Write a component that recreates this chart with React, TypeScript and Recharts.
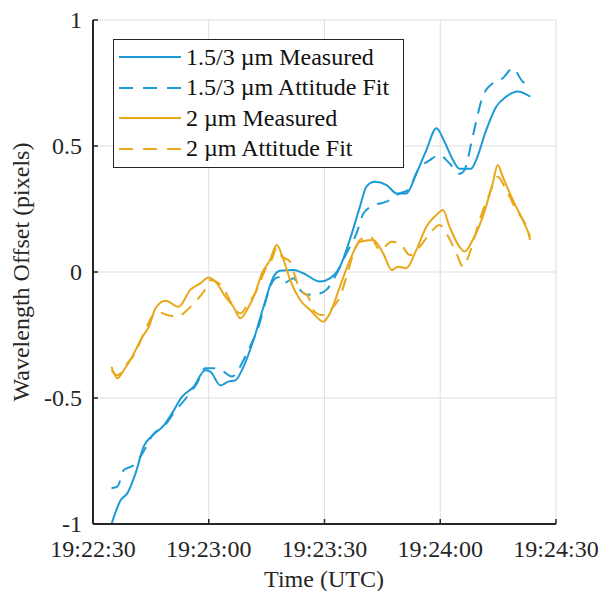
import { CartesianGrid, Legend, Line, LineChart, XAxis, YAxis } from "recharts";

// seconds after 19:22:30
const blueMeasT = [4.8, 7.2, 8.9, 11, 13.2, 15.3, 18.3, 20.5, 23.1, 26.1, 29.1, 30.4, 33, 35.1, 36.9, 39, 41.6, 44.2, 46.8, 48.5, 52, 54.5, 58.8, 61.4, 64, 66.6, 69.2, 70.9, 73, 76.1, 78.7, 81.2, 83.8, 86.4, 89, 91.1, 93.3, 95, 98, 99.3, 101.9, 104.5, 107.1, 110.1, 113.3];
const blueMeasV = [-1.0, -0.905, -0.878, -0.8, -0.69, -0.65, -0.61, -0.56, -0.495, -0.455, -0.39, -0.395, -0.45, -0.435, -0.43, -0.376, -0.27, -0.138, -0.019, 0.005, 0.008, -0.005, -0.038, -0.025, 0.021, 0.13, 0.26, 0.34, 0.358, 0.345, 0.312, 0.312, 0.39, 0.484, 0.57, 0.517, 0.444, 0.41, 0.41, 0.444, 0.563, 0.656, 0.696, 0.716, 0.696];

const blueFitT = [4.8, 6.3, 8, 10.6, 12.8, 15.8, 18.3, 20.9, 24.4, 27, 29.1, 31.3, 33.9, 36, 39, 40.7, 42.9, 45.1, 46.8, 48.1, 49.4, 52, 53.7, 55.4, 58.8, 60.5, 63.2, 65.7, 68.3, 70.1, 73, 76.1, 79.5, 81.7, 84.2, 87.3, 89.8, 92.4, 95, 96.3, 98.4, 101, 103.6, 106.2, 108.8, 111.4, 113.3];
const blueFitV = [-0.858, -0.852, -0.786, -0.766, -0.72, -0.64, -0.614, -0.56, -0.495, -0.44, -0.382, -0.382, -0.396, -0.415, -0.35, -0.296, -0.217, -0.098, -0.032, -0.021, -0.045, -0.025, -0.071, -0.09, -0.085, -0.071, -0.005, 0.074, 0.153, 0.233, 0.266, 0.279, 0.312, 0.325, 0.405, 0.444, 0.464, 0.431, 0.39, 0.405, 0.537, 0.696, 0.749, 0.769, 0.808, 0.755, 0.742];

const orangeMeasT = [4.8, 6.3, 8, 10.6, 12.8, 14.5, 16.2, 18.8, 22.2, 25.2, 27.8, 30, 32.1, 34.3, 36.4, 38.2, 39.9, 42, 43.8, 45.9, 47.6, 49.4, 51.1, 53.7, 56.3, 59.7, 61.4, 64, 66.6, 69.2, 72.6, 75.2, 77.4, 79.1, 81.2, 83.8, 86.4, 89, 90.7, 92.4, 95, 96.3, 98.4, 101, 103.6, 104.9, 106.2, 108.8, 111.4, 113.3];
const orangeMeasV = [-0.376, -0.422, -0.389, -0.323, -0.257, -0.217, -0.144, -0.114, -0.138, -0.071, -0.045, -0.022, -0.045, -0.098, -0.138, -0.184, -0.151, -0.085, -0.005, 0.048, 0.107, 0.048, -0.032, -0.111, -0.151, -0.197, -0.164, -0.058, 0.048, 0.12, 0.127, 0.074, 0.008, 0.021, 0.015, 0.087, 0.18, 0.226, 0.246, 0.18, 0.1, 0.081, 0.127, 0.219, 0.352, 0.425, 0.378, 0.286, 0.206, 0.14];

const orangeFitT = [4.8, 6.3, 8.9, 10.6, 13.2, 15.3, 16.6, 19.2, 21.8, 24.4, 26.5, 28.7, 30.4, 32.6, 34.3, 36.4, 38.2, 40.3, 42.5, 44.6, 46.3, 47.6, 48.6, 51.1, 52.4, 53.7, 55.8, 57.1, 59.3, 61.4, 64, 65.7, 67.8, 69.2, 71.8, 74.4, 77.4, 79.5, 82.1, 84.7, 87.3, 89.8, 91.6, 94.2, 95.9, 97.6, 100.2, 102.8, 104.9, 107.1, 109.7, 112.3, 113.3];
const orangeFitV = [-0.39, -0.41, -0.362, -0.33, -0.243, -0.177, -0.157, -0.171, -0.177, -0.151, -0.118, -0.078, -0.032, -0.045, -0.078, -0.138, -0.164, -0.124, -0.071, 0.008, 0.048, 0.095, 0.067, 0.04, -0.019, -0.071, -0.098, -0.151, -0.171, -0.151, -0.098, -0.019, 0.087, 0.127, 0.14, 0.087, 0.12, 0.114, 0.067, 0.1, 0.153, 0.187, 0.153, 0.074, 0.021, 0.074, 0.206, 0.312, 0.378, 0.325, 0.246, 0.18, 0.127];

const xTicks = [0, 30, 60, 90, 120];
const yTicks = [-1, -0.5, 0, 0.5, 1];

const BLUE = "#1b9ad6";
const ORANGE = "#e8a819";
const AXIS = "#262626";
const FONT = "'Liberation Serif', 'Times New Roman', serif";

const toRows = (t: number[], v: number[]) => t.map((x, i) => ({ t: x, v: v[i] }));

const series = [
  { name: "1.5/3 \u00b5m Measured", color: BLUE, dash: undefined, data: toRows(blueMeasT, blueMeasV) },
  { name: "1.5/3 \u00b5m Attitude Fit", color: BLUE, dash: "13 9", data: toRows(blueFitT, blueFitV) },
  { name: "2 \u00b5m Measured", color: ORANGE, dash: undefined, data: toRows(orangeMeasT, orangeMeasV) },
  { name: "2 \u00b5m Attitude Fit", color: ORANGE, dash: "13 9", data: toRows(orangeFitT, orangeFitV) },
];

function fmtTime(s: number) {
  const total = 22 * 60 + 30 + s;
  const m = Math.floor(total / 60);
  const sec = total % 60;
  return `19:${String(m).padStart(2, "0")}:${String(sec).padStart(2, "0")}`;
}

function BottomTick({ x, y, payload }: any) {
  return (
    <g>
      <line x1={x} y1={y} x2={x} y2={y - 5} stroke={AXIS} strokeWidth={1.5} />
      <text x={x} y={y + 33} textAnchor="middle" fill={AXIS} fontSize={24} fontFamily={FONT}>
        {fmtTime(payload.value)}
      </text>
    </g>
  );
}

function TopTick({ x, y }: any) {
  return <line x1={x} y1={y} x2={x} y2={y + 5} stroke={AXIS} strokeWidth={1.5} />;
}

function LeftTick({ x, y, payload }: any) {
  return (
    <g>
      <line x1={x} y1={y} x2={x + 5} y2={y} stroke={AXIS} strokeWidth={1.5} />
      <text x={x - 11} y={y + 8} textAnchor="end" fill={AXIS} fontSize={24} fontFamily={FONT}>
        {payload.value}
      </text>
    </g>
  );
}

function RightTick({ x, y }: any) {
  return <line x1={x} y1={y} x2={x - 5} y2={y} stroke={AXIS} strokeWidth={1.5} />;
}

function LegendBox() {
  return (
    <div
      style={{
        border: `1.5px solid ${AXIS}`,
        background: "#fff",
        width: 289,
        padding: "2px 0 3px 0",
        fontFamily: FONT,
        fontSize: 24,
        color: "#111",
        boxSizing: "content-box",
      }}
    >
      {series.map((s) => (
        <div key={s.name} style={{ display: "flex", alignItems: "center", height: 30.5, whiteSpace: "nowrap" }}>
          <svg width={72} height={10} style={{ flex: "none" }}>
            <line x1={5} x2={67} y1={5} y2={5} stroke={s.color} strokeWidth={2} strokeDasharray={s.dash ? "14 10" : undefined} />
          </svg>
          <span>{s.name}</span>
        </div>
      ))}
    </div>
  );
}

export default function App() {
  return (
    <div style={{ position: "absolute", left: 0, top: 0, width: 600, height: 591, background: "#fff" }}>
      <LineChart width={600} height={591} margin={{ top: 20, right: 44, bottom: 0, left: 0 }}>
        <CartesianGrid stroke="#dfdfdf" strokeWidth={1} />
        <XAxis
          dataKey="t"
          type="number"
          domain={[0, 120]}
          ticks={xTicks}
          height={67}
          tickSize={0}
          tickMargin={0}
          tickLine={false}
          tick={<BottomTick />}
          axisLine={{ stroke: AXIS, strokeWidth: 2 }}
          label={{
            content: () => (
              <text x={324} y={587} textAnchor="middle" fill={AXIS} fontSize={24} fontFamily={FONT}>
                Time (UTC)
              </text>
            ),
          }}
        />
        <XAxis
          xAxisId="top"
          orientation="top"
          dataKey="t"
          type="number"
          domain={[0, 120]}
          ticks={xTicks}
          height={0}
          tickSize={0}
          tickMargin={0}
          tickLine={false}
          tick={<TopTick />}
          axisLine={{ stroke: AXIS, strokeWidth: 2 }}
        />
        <YAxis
          type="number"
          domain={[-1, 1]}
          ticks={yTicks}
          width={93}
          tickSize={0}
          tickMargin={0}
          tickLine={false}
          tick={<LeftTick />}
          axisLine={{ stroke: AXIS, strokeWidth: 2 }}
          label={{
            content: () => (
              <text x={29} y={272} transform="rotate(-90, 29, 272)" textAnchor="middle" fill={AXIS} fontSize={24} fontFamily={FONT}>
                Wavelength Offset (pixels)
              </text>
            ),
          }}
        />
        <YAxis
          yAxisId="right"
          orientation="right"
          type="number"
          domain={[-1, 1]}
          ticks={yTicks}
          width={0}
          tickSize={0}
          tickMargin={0}
          tickLine={false}
          tick={<RightTick />}
          axisLine={{ stroke: AXIS, strokeWidth: 2 }}
        />
        {series.map((s) => (
          <Line
            key={s.name}
            data={s.data}
            dataKey="v"
            name={s.name}
            type="monotone"
            stroke={s.color}
            strokeWidth={2}
            strokeDasharray={s.dash}
            dot={false}
            activeDot={false}
            isAnimationActive={false}
          />
        ))}
        <Legend
          layout="vertical"
          align="center"
          verticalAlign="middle"
          wrapperStyle={{ left: 113, top: 39, width: "auto", height: "auto" }}
          content={<LegendBox />}
        />
      </LineChart>
    </div>
  );
}
